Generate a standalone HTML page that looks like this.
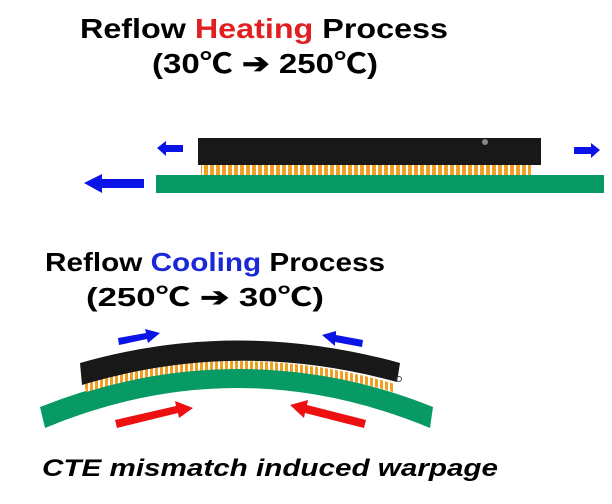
<!DOCTYPE html>
<html><head><meta charset="utf-8"><style>html,body{margin:0;padding:0;background:#fff}svg{display:block}text{font-family:"Liberation Sans","Noto Sans CJK SC",sans-serif;font-weight:bold}</style></head>
<body>
<svg width="612" height="504" viewBox="0 0 612 504" xmlns="http://www.w3.org/2000/svg">
<defs>
<pattern id="sol" width="6" height="10" patternUnits="userSpaceOnUse"><rect width="6" height="10" fill="#fff"/><rect width="4" height="10" fill="#f0a020"/></pattern>
<pattern id="sol2" width="5" height="10" patternUnits="userSpaceOnUse"><rect width="5" height="10" fill="#fff"/><rect width="3" height="10" fill="#f0a020"/></pattern>
</defs>
<text x="80" y="38" font-size="28" textLength="368" lengthAdjust="spacingAndGlyphs">Reflow <tspan fill="#e02020">Heating</tspan> Process</text>
<text x="152" y="73" font-size="28" textLength="226" lengthAdjust="spacingAndGlyphs">(30℃ ➔ 250℃)</text>
<!-- heating -->
<rect x="201" y="164" width="330" height="12" fill="url(#sol)"/>
<rect x="198" y="138" width="343" height="27" fill="#181818"/>
<circle cx="485" cy="142" r="3" fill="#888"/>
<rect x="156" y="175" width="448" height="18" fill="#089a64"/>
<polygon points="157,148 166,141 166,145 183,145 183,152 166,152 166,156" fill="#0a14e6"/>
<polygon points="600,150 591,143 591,147 574,147 574,154 591,154 591,158" fill="#0a14e6"/>
<polygon points="84,183 102,174 102,179 144,179 144,188 102,188 102,193" fill="#0a14e6"/>
<!-- cooling -->
<text x="45" y="271" font-size="26" textLength="340" lengthAdjust="spacingAndGlyphs">Reflow <tspan fill="#1a28d8">Cooling</tspan> Process</text>
<text x="86" y="306" font-size="26" textLength="238" lengthAdjust="spacingAndGlyphs">(250℃ ➔ 30℃)</text>
<path d="M40,407 Q237,329 433,407 L430,428 Q237,348 45,428 Z" fill="#089a64"/>
<path d="M84,384 Q237,338 395,384 L393,392 Q237,346 86,392 Z" fill="url(#sol2)"/>
<path d="M80,363 Q237,318 400,363 L397,382 Q237,338 82,385 Z" fill="#181818"/>
<circle cx="399" cy="379" r="2.5" fill="none" stroke="#444" stroke-width="1"/>
<g fill="#0a14e6">
<polygon points="118,338 146,333 145,329 160,333 148,343 147,339 119,345"/>
<polygon points="322,335 336,331 336,335 363,340 362,347 335,342 335,346"/>
</g>
<g fill="#ee1010">
<polygon points="115,420 176,406 175,401 193,408 179,418 178,413 117,428"/>
<polygon points="290,405 308,400 307,405 366,420 364,428 305,413 304,418"/>
</g>
<text x="42" y="476" font-size="24" font-style="italic" textLength="456" lengthAdjust="spacingAndGlyphs">CTE mismatch induced warpage</text>
</svg>
</body></html>
